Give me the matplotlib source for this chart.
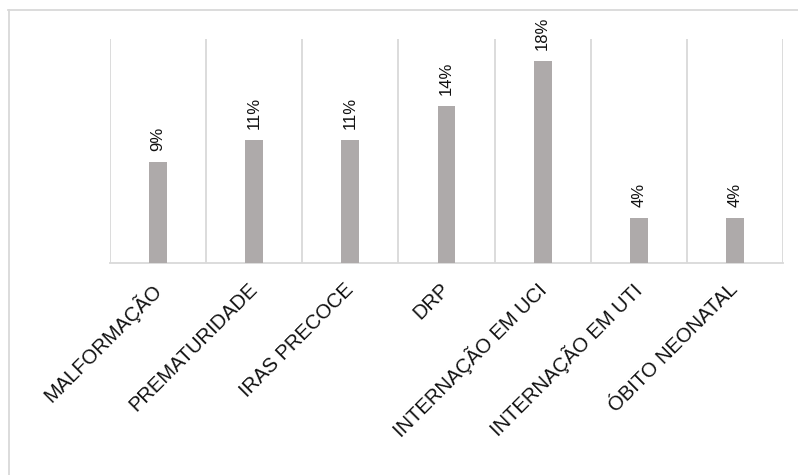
import matplotlib
matplotlib.use("Agg")
import matplotlib.pyplot as plt
from matplotlib.lines import Line2D

categories = ["MALFORMAÇÃO", "PREMATURIDADE", "IRAS PRECOCE", "DRP",
              "INTERNAÇÃO EM UCI", "INTERNAÇÃO EM UTI", "ÓBITO NEONATAL"]
values = [0.09, 0.11, 0.11, 0.14, 0.18, 0.04, 0.04]
value_labels = ["9%", "11%", "11%", "14%", "18%", "4%", "4%"]

plt.rcParams['font.family'] = ['Liberation Sans', 'DejaVu Sans']

W, H = 798, 475
fig = plt.figure(figsize=(W / 100, H / 100), dpi=100)
ax = fig.add_axes([110 / W, 1 - 263 / H, (783 - 110) / W, (263 - 39) / H])

x = list(range(len(categories)))
ax.bar(x, values, width=0.185, color="#AEAAAA", zorder=3)

for xi, v, lab in zip(x, values, value_labels):
    ax.annotate(lab, (xi, v), xytext=(0, 8), textcoords="offset points",
                rotation=90, ha="center", va="bottom", fontsize=12, color="#111111")

ax.set_xlim(-0.5, len(categories) - 0.5)
ax.set_ylim(0, 0.20)
for b in range(len(categories) + 1):
    ax.axvline(b - 0.5, color="#D9D9D9", lw=1.3, zorder=1)

for s in ["top", "right", "left"]:
    ax.spines[s].set_visible(False)
ax.spines["bottom"].set_color("#D9D9D9")
ax.spines["bottom"].set_linewidth(1.3)
ax.set_yticks([])
ax.set_xticks(x)
ax.set_xticklabels(categories, rotation=45, ha="right", va="center",
                   rotation_mode="anchor", fontsize=14.5, color="#111111")
ax.tick_params(axis="x", length=0, pad=17)

# outer chart border (partially visible)
fig.add_artist(Line2D([8 / W, 1.0], [1 - 9.5 / H, 1 - 9.5 / H], transform=fig.transFigure,
                      color="#D9D9D9", lw=1.3))
fig.add_artist(Line2D([8.5 / W, 8.5 / W], [0, 1 - 9.5 / H], transform=fig.transFigure,
                      color="#D9D9D9", lw=1.3))

fig.savefig("out.png", dpi=100)
